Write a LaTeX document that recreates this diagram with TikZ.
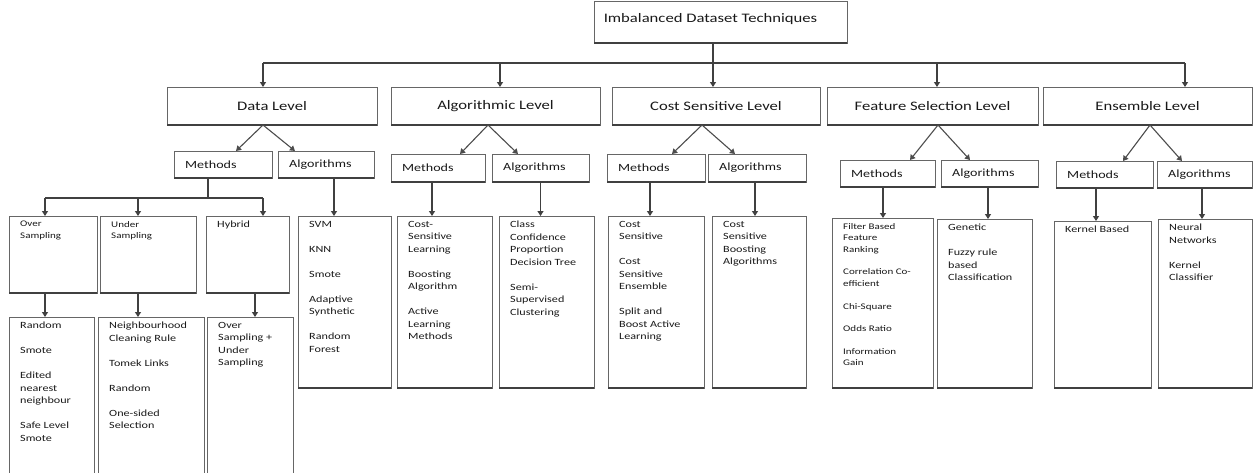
\documentclass[tikz,border=0pt]{standalone}
\usepackage{fontspec}
\setmainfont{Carlito}[FakeStretch=1.28]
\usetikzlibrary{arrows.meta,fit}

% plain framed box spanning two corners, with a darker lower edge
\newcommand\boxat[5]{%
  \node[box, fit={(#2,#3) (#4,#5)}] (#1) {};
  \draw[lowedge] (#1.south west) -- (#1.south east);
}
% framed box with centred heading
\newcommand\level[6]{%
  \boxat{#1}{#2}{#3}{#4}{#5}
  \node[lvl] (#1-t) at (#1.center) {#6};
}
% framed box with left-aligned text set from its top left corner
\newcommand\leaf[7][leaf]{%
  \boxat{#2}{#3}{#4}{#5}{#6}
  \node[#1, anchor=north west] (#2-t) at ([xshift=11pt, yshift=-5pt]#2.north west) {#7};
}
% small Methods / Algorithms box, text at its left
\newcommand\sub[6]{%
  \boxat{#1}{#2}{#3}{#4}{#5}
  \node[subtext, anchor=west] (#1-t) at ([xshift=11pt]#1.west) {#6};
}

\begin{document}
\begin{tikzpicture}[x=1pt, y=-1pt,
  box/.style={draw=black!60, line width=0.8pt, inner sep=0pt, outer sep=0pt},
  lowedge/.style={draw=black!75, line width=1.4pt},
  lvl/.style={font=\fontsize{13}{15}\selectfont, inner sep=0pt, text=black!90},
  subtext/.style={font=\fontsize{11}{13}\selectfont, inner sep=0pt, text=black!90},
  leaf/.style={font=\fontsize{9.5}{12.5}\selectfont, align=left, inner sep=0pt, text=black!90},
  leafsmall/.style={font=\fontsize{8.6}{11.6}\selectfont, align=left, inner sep=0pt, text=black!90},
  ln/.style={draw=black!75, line width=1.3pt},
  arr/.style={draw=black!75, line width=1.3pt, -{Triangle[length=5pt,width=6pt]}},
  darr/.style={draw=black!70, line width=1.1pt, -{Triangle[length=5pt,width=6pt]}}]
\useasboundingbox (0,0) rectangle (1253,472);
\clip (0,0) rectangle (1253,472);

% root and the five levels
\boxat{top}{594}{1}{847}{43}
\node[lvl] (top-t) at ([xshift=-10pt, yshift=3pt]top.center) {Imbalanced Dataset Techniques};
\level{dl}{167}{87}{377}{125}{Data Level}
\level{al}{391}{87}{600}{125}{Algorithmic Level}
\level{cl}{612}{87}{820}{125}{Cost Sensitive Level}
\level{fl}{827}{87}{1038}{125}{Feature Selection Level}
\level{el}{1043}{87}{1252}{125}{Ensemble Level}

% distribution bus under the root
\coordinate (b1) at (263,63);
\coordinate (b2) at (500,63);
\coordinate (b4) at (937,63);
\coordinate (b5) at (1185,63);
\draw[ln] (b1) -- (b5);
\draw[arr] ([xshift=-7.5pt]top.south) coordinate (ts) -- (ts |- cl.north);
\draw[arr] (b1) -- (b1 |- dl.north);
\draw[arr] (b2) -- (b2 |- al.north);
\draw[arr] (b4) -- (b4 |- fl.north);
\draw[arr] (b5) -- (b5 |- el.north);

% methods / algorithms under each level
\sub{dm}{174}{151}{272}{178}{Methods}
\sub{da}{278}{151}{374}{178}{Algorithms}
\sub{am}{391}{154}{485}{182}{Methods}
\sub{aa}{492}{154}{589}{182}{Algorithms}
\sub{cm}{607}{154}{705}{182}{Methods}
\sub{ca}{708}{154}{806}{182}{Algorithms}
\sub{fm}{840}{160}{935}{187}{Methods}
\sub{fa}{941}{160}{1038}{187}{Algorithms}
\sub{em}{1056}{161}{1153}{188}{Methods}
\sub{ea}{1157}{161}{1252}{188}{Algorithms}

\draw[darr] ([xshift=-9pt]dl.south) -- ([xshift=13pt]dm.north);
\draw[darr] ([xshift=-9pt]dl.south) -- ([xshift=-31pt]da.north);
\draw[darr] ([xshift=-7.5pt]al.south) -- ([xshift=22pt]am.north);
\draw[darr] ([xshift=-7.5pt]al.south) -- ([xshift=-22.5pt]aa.north);
\draw[darr] ([xshift=-14pt]cl.south) -- ([xshift=16pt]cm.north);
\draw[darr] ([xshift=-14pt]cl.south) -- ([xshift=-22pt]ca.north);
\draw[darr] ([xshift=5.5pt]fl.south) -- ([xshift=22.5pt]fm.north);
\draw[darr] ([xshift=5.5pt]fl.south) -- ([xshift=-19.5pt]fa.north);
\draw[darr] ([xshift=2.5pt]el.south) -- ([xshift=18.5pt]em.north);
\draw[darr] ([xshift=2.5pt]el.south) -- ([xshift=-22.5pt]ea.north);

% data level methods
\leaf[leafsmall]{os}{9}{216}{97}{293}{Over\\Sampling}
\leaf[leafsmall]{us}{100}{216}{196}{293}{Under\\Sampling}
\leaf{hy}{206}{216}{289}{293}{Hybrid}

\coordinate (h1) at (45,198);
\coordinate (h2) at (138,198);
\coordinate (h3) at (263,198);
\draw[ln] ([xshift=-15pt]dm.south) coordinate (s) -- (s |- h1);
\draw[ln] (h1) -- (h3);
\draw[arr] (h1) -- (h1 |- os.north);
\draw[arr] (h2) -- (h2 |- us.north);
\draw[arr] (h3) -- (h3 |- hy.north);

\leaf{os2}{9}{317}{94}{490}{Random\\[12.5pt]Smote\\[12.5pt]Edited\\nearest\\neighbour\\[12.5pt]Safe Level\\Smote}
\leaf{us2}{98}{317}{204}{490}{Neighbourhood\\Cleaning Rule\\[12.5pt]Tomek Links\\[12.5pt]Random\\[12.5pt]One-sided\\Selection}
\leaf{hy2}{207}{317}{293}{490}{Over\\Sampling +\\Under\\Sampling}
\draw[arr] ([xshift=-8pt]os.south) coordinate (s) -- (s |- os2.north);
\draw[arr] ([xshift=-10pt]us.south) coordinate (s) -- (s |- us2.north);
\draw[arr] ([xshift=7.5pt]hy.south) coordinate (s) -- (s |- hy2.north);

% leaf lists
\leaf{svm}{298}{216}{391}{388}{SVM\\[12.5pt]KNN\\[12.5pt]Smote\\[12.5pt]Adaptive\\Synthetic\\[12.5pt]Random\\Forest}
\leaf{csl}{397}{216}{492}{388}{Cost-\\Sensitive\\Learning\\[12.5pt]Boosting\\Algorithm\\[12.5pt]Active\\Learning\\Methods}
\leaf{ccp}{499}{216}{594}{388}{Class\\Confidence\\Proportion\\Decision Tree\\[12.5pt]Semi-\\Supervised\\Clustering}
\leaf{csm}{608}{216}{704}{388}{Cost\\Sensitive\\[12.5pt]Cost\\Sensitive\\Ensemble\\[12.5pt]Split and\\Boost Active\\Learning}
\leaf{csb}{712}{216}{806}{388}{Cost\\Sensitive\\Boosting\\Algorithms}
\leaf[leafsmall]{fbr}{832}{218}{933}{388}{Filter Based\\Feature\\Ranking\\[11pt]Correlation Co-\\efficient\\[11pt]Chi-Square\\[11pt]Odds Ratio\\[11pt]Information\\Gain}
\leaf{gen}{937}{219}{1032}{388}{Genetic\\[12.5pt]Fuzzy rule\\based\\Classification}
\leaf{kb}{1054}{221}{1151}{388}{Kernel Based}
\leaf{nn}{1158}{219}{1252}{388}{Neural\\Networks\\[12.5pt]Kernel\\Classifier}

\draw[arr] ([xshift=8pt]da.south) coordinate (s) -- (s |- svm.north);
\draw[arr] ([xshift=-6pt]am.south) coordinate (s) -- (s |- csl.north);
\draw[arr] (aa.south) -- (aa.south |- ccp.north);
\draw[arr] ([xshift=-6pt]cm.south) coordinate (s) -- (s |- csm.north);
\draw[arr] ([xshift=-2pt]ca.south) coordinate (s) -- (s |- csb.north);
\draw[arr] ([xshift=-4.5pt]fm.south) coordinate (s) -- (s |- fbr.north);
\draw[arr] ([xshift=-1.5pt]fa.south) coordinate (s) -- (s |- gen.north);
\draw[arr] ([xshift=-8.5pt]em.south) coordinate (s) -- (s |- kb.north);
\draw[arr] ([xshift=-2.5pt]ea.south) coordinate (s) -- (s |- nn.north);
\end{tikzpicture}
\end{document}
